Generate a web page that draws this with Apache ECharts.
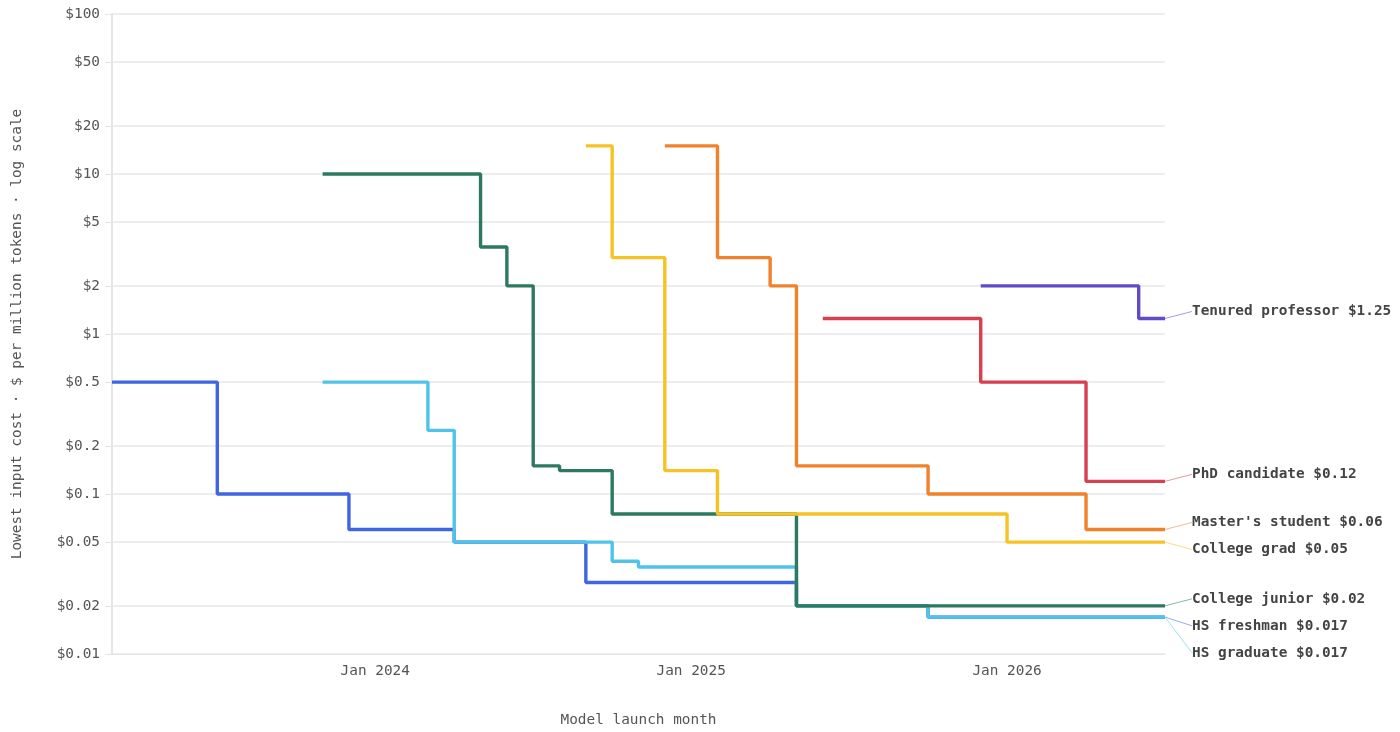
<!DOCTYPE html>
<html>
<head>
<meta charset="utf-8">
<script src="https://cdn.jsdelivr.net/npm/echarts@6/dist/echarts.min.js"></script>
<style>
  html, body { margin: 0; padding: 0; background: #fff; }
  #chart { width: 1400px; height: 732px; }
</style>
</head>
<body>
<div id="chart"></div>
<script>
// months on the x axis, Mar 2023 .. Jul 2026
var months = [];
for (var y = 2023; y <= 2026; y++) {
    for (var m = 1; m <= 12; m++) {
        if (y == 2023 && m < 3) continue;
        if (y == 2026 && m > 7) break;
        months.push(y + '-' + (m < 10 ? '0' + m : m));
    }
}

var yTicks = [0.01, 0.02, 0.05, 0.1, 0.2, 0.5, 1, 2, 5, 10, 20, 50, 100];

// [month, lowest $ per million input tokens] at each price change
var hsFreshman = [['2023-03', 0.5], ['2023-07', 0.1], ['2023-12', 0.06], ['2024-04', 0.05],
    ['2024-09', 0.028], ['2025-05', 0.02], ['2025-10', 0.017], ['2026-07', 0.017]];
var hsGraduate = [['2023-11', 0.5], ['2024-03', 0.25], ['2024-04', 0.05], ['2024-10', 0.038],
    ['2024-11', 0.035], ['2025-05', 0.02], ['2025-10', 0.017], ['2026-07', 0.017]];
var collegeJunior = [['2023-11', 10], ['2024-05', 3.5], ['2024-06', 2], ['2024-07', 0.15],
    ['2024-08', 0.14], ['2024-10', 0.075], ['2025-05', 0.02], ['2026-07', 0.02]];
var collegeGrad = [['2024-09', 15], ['2024-10', 3], ['2024-12', 0.14], ['2025-02', 0.075],
    ['2026-01', 0.05], ['2026-07', 0.05]];
var mastersStudent = [['2024-12', 15], ['2025-02', 3], ['2025-04', 2], ['2025-05', 0.15],
    ['2025-10', 0.1], ['2026-04', 0.06], ['2026-07', 0.06]];
var phdCandidate = [['2025-06', 1.25], ['2025-12', 0.5], ['2026-04', 0.12], ['2026-07', 0.12]];
var tenuredProfessor = [['2025-12', 2], ['2026-06', 1.25], ['2026-07', 1.25]];

var seriesDefs = [
    { name: 'HS freshman', data: hsFreshman, color: '#3f66e0' },
    { name: 'HS graduate', data: hsGraduate, color: '#4fc3ea' },
    { name: 'College junior', data: collegeJunior, color: '#2c7a5d' },
    { name: 'College grad', data: collegeGrad, color: '#f6c226' },
    { name: "Master's student", data: mastersStudent, color: '#f0822b' },
    { name: 'PhD candidate', data: phdCandidate, color: '#d6404f' },
    { name: 'Tenured professor', data: tenuredProfessor, color: '#6249c7' }
];

var mono = 'DejaVu Sans Mono';
var labelGap = 27;   // min vertical distance between end labels
var labelLift = -7;  // end labels sit a bit above their line
var chart = echarts.init(document.getElementById('chart'));

// only the last point of each line carries a label
function withEndLabel(points) {
    return points.map(function (p, i) {
        if (i < points.length - 1) return p;
        return { value: p, label: { show: true } };
    });
}

chart.setOption({
    animation: false,
    grid: { left: 112, right: 235, top: 14, bottom: 77 },
    xAxis: {
        type: 'category',
        data: months,
        boundaryGap: false,
        name: 'Model launch month',
        nameLocation: 'middle',
        nameGap: 59,
        nameTextStyle: { fontFamily: mono, fontSize: 14.4, color: '#555' },
        axisLine: { show: true, lineStyle: { color: '#e4e4ea' } },
        axisTick: { show: false },
        axisLabel: {
            fontFamily: mono,
            fontSize: 14.4,
            color: '#555',
            margin: 10,
            interval: function (i, v) { return v.slice(5) == '01'; },
            formatter: function (v) { return 'Jan ' + v.slice(0, 4); }
        },
        splitLine: { show: false }
    },
    yAxis: {
        type: 'log',
        logBase: 10,
        min: 0.01,
        max: 100,
        name: 'Lowest input cost · $ per million tokens · log scale',
        nameLocation: 'middle',
        nameGap: 88,
        nameTextStyle: { fontFamily: mono, fontSize: 14.4, color: '#555' },
        axisLine: { show: true, lineStyle: { color: '#e4e4ea', width: 2 } },
        axisTick: { show: true, customValues: yTicks, length: 7, lineStyle: { color: '#e4e4ea' } },
        axisLabel: {
            customValues: yTicks,
            fontFamily: mono,
            fontSize: 14.4,
            color: '#555',
            margin: 12,
            formatter: function (v) { return '$' + v; }
        },
        splitLine: { show: true, lineStyle: { color: '#e6e6ec', width: 1.5 } }
    },
    series: seriesDefs.map(function (s) {
        return {
            name: s.name,
            type: 'line',
            step: 'end',
            data: withEndLabel(s.data),
            showSymbol: true,
            symbol: 'circle',
            symbolSize: 0,
            color: s.color,
            lineStyle: { width: 3.4, color: s.color },
            label: {
                show: false,
                position: 'right',
                distance: 21,
                padding: [0, 0, 0, 6],
                fontFamily: mono,
                fontSize: 14.4,
                fontWeight: 'bold',
                color: '#444',
                formatter: function (p) { return p.seriesName + ' $' + p.value[1]; }
            },
            labelLine: { show: true, lineStyle: { width: 1, color: s.color, opacity: 0.55 } }
        };
    })
});

// push overlapping end labels apart (top to bottom)
var ends = seriesDefs.map(function (s, i) {
    var last = s.data[s.data.length - 1];
    var py = chart.convertToPixel({ seriesIndex: i }, last)[1];
    return { index: i, anchor: py, y: py + labelLift };
});
var sorted = ends.slice().sort(function (a, b) { return a.anchor - b.anchor || a.index - b.index; });
for (var k = 1; k < sorted.length; k++) {
    if (sorted[k].y < sorted[k - 1].y + labelGap) sorted[k].y = sorted[k - 1].y + labelGap;
}
chart.setOption({
    series: ends.map(function (e) {
        return { labelLayout: { dy: e.y - e.anchor } };
    })
});
</script>
</body>
</html>
